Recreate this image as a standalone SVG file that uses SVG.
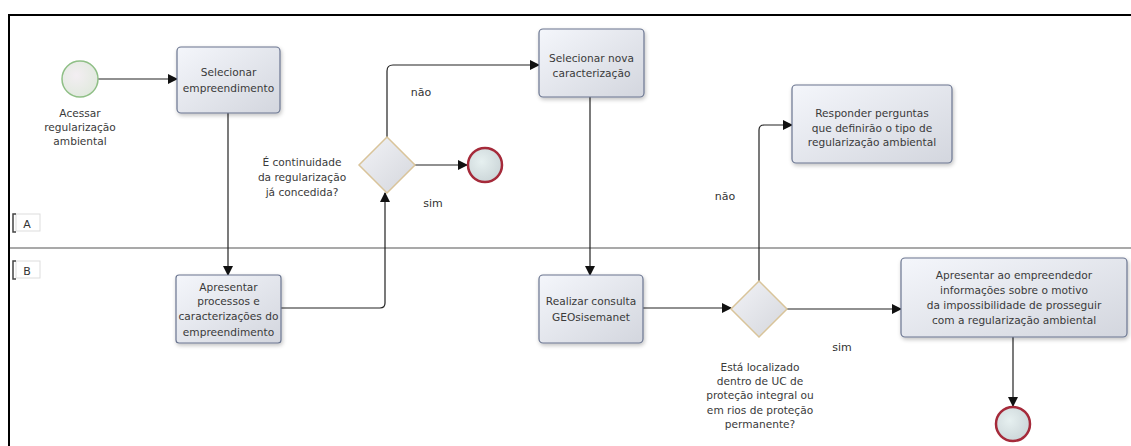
<svg xmlns="http://www.w3.org/2000/svg" width="1131" height="446" viewBox="0 0 1131 446">
<defs>
<linearGradient id="gTask" x1="0" y1="0" x2="1" y2="1">
<stop offset="0" stop-color="#f4f6fb"/>
<stop offset="1" stop-color="#d3d6de"/>
</linearGradient>
<linearGradient id="gGate" x1="0" y1="0" x2="1" y2="1">
<stop offset="0" stop-color="#f2f3f7"/>
<stop offset="1" stop-color="#d4d6dc"/>
</linearGradient>
<radialGradient id="gStart" cx="0.4" cy="0.4" r="0.7">
<stop offset="0" stop-color="#f3eef2"/>
<stop offset="1" stop-color="#dfe9dc"/>
</radialGradient>
<radialGradient id="gEnd" cx="0.4" cy="0.4" r="0.7">
<stop offset="0" stop-color="#e6f0f0"/>
<stop offset="1" stop-color="#c9d3d6"/>
</radialGradient>
<filter id="sh" x="-10%" y="-10%" width="125%" height="130%">
<feGaussianBlur in="SourceAlpha" stdDeviation="2"/>
<feOffset dx="1" dy="2" result="b"/>
<feComponentTransfer><feFuncA type="linear" slope="0.25"/></feComponentTransfer>
<feMerge><feMergeNode/><feMergeNode in="SourceGraphic"/></feMerge>
</filter>
<marker id="arr" markerWidth="10" markerHeight="10" refX="9" refY="5" orient="auto" markerUnits="userSpaceOnUse">
<path d="M0,0 L10,5 L0,10 z" fill="#111"/>
</marker>
</defs>
<style>
.task{fill:url(#gTask);stroke:#6a7590;stroke-width:1.2;filter:url(#sh)}
.gate{fill:url(#gGate);stroke:#d9c49a;stroke-width:1.5}
.start{fill:url(#gStart);stroke:#8fbf86;stroke-width:1.5}
.end{fill:url(#gEnd);stroke:#a52a3a;stroke-width:2.5}
.t{font-family:"DejaVu Sans",Verdana,sans-serif;font-size:10.6px;fill:#3a3a3a;text-anchor:middle}
.lbl{font-family:"DejaVu Sans",Verdana,sans-serif;font-size:11px;fill:#333;text-anchor:middle}
.c{fill:none;stroke:#222;stroke-width:1.2}
</style>
<rect width="1131" height="446" fill="#fff"/>
<g id="pool">
<path d="M9,446 L9,15 L1131,15" fill="none" stroke="#000" stroke-width="2"/>
<line x1="10" y1="248" x2="1131" y2="248" stroke="#555" stroke-width="1.2"/>
<g id="laneA">
<rect x="16" y="214" width="24" height="17" fill="none" stroke="#ddd" stroke-width="1"/>
<path d="M16,214 L13,214 L13,232 L16,232" fill="none" stroke="#444" stroke-width="1.5"/>
<text x="27" y="228" class="lbl">A</text>
</g>
<g id="laneB">
<rect x="16" y="261" width="24" height="17" fill="none" stroke="#ddd" stroke-width="1"/>
<path d="M16,261 L13,261 L13,279 L16,279" fill="none" stroke="#444" stroke-width="1.5"/>
<text x="27" y="275" class="lbl">B</text>
</g>
</g>
<g id="connectors">
<line class="c" x1="98" y1="79" x2="177" y2="79" marker-end="url(#arr)"/>
<line class="c" x1="228" y1="113" x2="228" y2="275" marker-end="url(#arr)"/>
<path class="c" d="M281,308 L380,308 Q385,308 385,303 L385,193" marker-end="url(#arr)"/>
<path class="c" d="M387,137 L387,71 Q387,65 393,65 L539,65" marker-end="url(#arr)"/>
<line class="c" x1="415" y1="165" x2="467" y2="165" marker-end="url(#arr)"/>
<line class="c" x1="590" y1="97" x2="590" y2="275" marker-end="url(#arr)"/>
<line class="c" x1="643" y1="308" x2="731" y2="308" marker-end="url(#arr)"/>
<path class="c" d="M759,281 L759,130 Q759,125 764,125 L792,125" marker-end="url(#arr)"/>
<line class="c" x1="787" y1="309" x2="901" y2="309" marker-end="url(#arr)"/>
<line class="c" x1="1013" y1="337" x2="1013" y2="406" marker-end="url(#arr)"/>
<text x="421" y="96" class="lbl">não</text>
<text x="433" y="207" class="lbl">sim</text>
<text x="725" y="200" class="lbl">não</text>
<text x="842" y="351" class="lbl">sim</text>
</g>
<g id="start">
<circle class="start" cx="80" cy="79" r="18"/>
<text class="t"><tspan x="80" y="117">Acessar</tspan><tspan x="80" y="131">regularização</tspan><tspan x="80" y="145">ambiental</tspan></text>
</g>
<g id="task1">
<rect class="task" x="177" y="47" width="103" height="66" rx="4"/>
<text class="t"><tspan x="228.5" y="76">Selecionar</tspan><tspan x="228.5" y="92">empreendimento</tspan></text>
</g>
<g id="task2">
<rect class="task" x="176" y="275" width="105" height="68" rx="3"/>
<text class="t"><tspan x="228.5" y="291">Apresentar</tspan><tspan x="228.5" y="305">processos e</tspan><tspan x="228.5" y="320">caracterizações do</tspan><tspan x="228.5" y="336">empreendimento</tspan></text>
</g>
<g id="gateway1">
<path class="gate" d="M387,137 L415,165 L387,193 L359,165 Z"/>
<text class="t"><tspan x="302" y="166">É continuidade</tspan><tspan x="302" y="181">da regularização</tspan><tspan x="302" y="196">já concedida?</tspan></text>
</g>
<g id="end1">
<circle class="end" cx="485" cy="165" r="17"/>
</g>
<g id="task3">
<rect class="task" x="539" y="29" width="105" height="68" rx="4"/>
<text class="t"><tspan x="591.5" y="62">Selecionar nova</tspan><tspan x="591.5" y="77">caracterização</tspan></text>
</g>
<g id="task4">
<rect class="task" x="539" y="275" width="104" height="68" rx="4"/>
<text class="t"><tspan x="591" y="305">Realizar consulta</tspan><tspan x="591" y="321">GEOsisemanet</tspan></text>
</g>
<g id="gateway2">
<path class="gate" d="M759,281 L787,309 L759,337 L731,309 Z"/>
<text class="t"><tspan x="760" y="371">Está localizado</tspan><tspan x="760" y="385">dentro de UC de</tspan><tspan x="760" y="399">proteção integral ou</tspan><tspan x="760" y="414">em rios de proteção</tspan><tspan x="760" y="428">permanente?</tspan></text>
</g>
<g id="task5">
<rect class="task" x="792" y="85" width="160" height="78" rx="4"/>
<text class="t"><tspan x="872" y="117">Responder perguntas</tspan><tspan x="872" y="132">que definirão o tipo de</tspan><tspan x="872" y="146">regularização ambiental</tspan></text>
</g>
<g id="task6">
<rect class="task" x="901" y="258" width="226" height="79" rx="4"/>
<text class="t"><tspan x="1014" y="279">Apresentar ao empreendedor</tspan><tspan x="1014" y="294">informações sobre o motivo</tspan><tspan x="1014" y="309">da impossibilidade de prosseguir</tspan><tspan x="1014" y="324">com a regularização ambiental</tspan></text>
</g>
<g id="end2">
<circle class="end" cx="1013" cy="424" r="17"/>
</g>
</svg>
